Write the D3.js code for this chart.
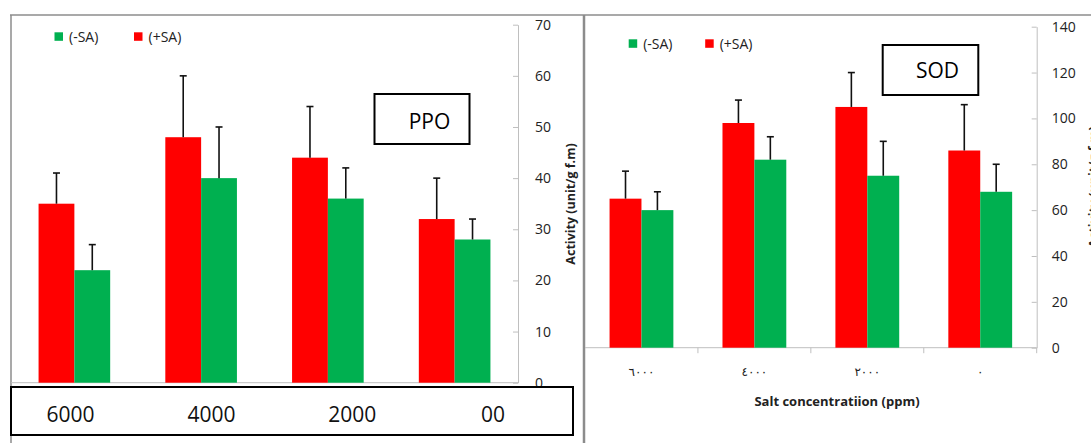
<!DOCTYPE html>
<html>
<head>
<meta charset="utf-8">
<script src="https://cdn.jsdelivr.net/npm/d3@7"></script>
<style>
  body { margin: 0; background: #fff; }
  svg { display: block; font-family: 'Open Sans', sans-serif; }
</style>
</head>
<body>
<svg id="chart" width="1091" height="443"></svg>
<script>
const categories = ['6000', '4000', '2000', '0']
const series = ['(+SA)', '(-SA)']
const legendOrder = ['(-SA)', '(+SA)']

const ppoPlus = [35, 48, 44, 32]
const ppoPlusErr = [6, 12, 10, 8]
const ppoMinus = [22, 40, 36, 28]
const ppoMinusErr = [5, 10, 6, 4]
const ppoTicks = [0, 10, 20, 30, 40, 50, 60, 70]
const ppoBoxLabels = ['6000', '4000', '2000', '00']

const sodPlus = [65, 98, 105, 86]
const sodPlusErr = [12, 10, 15, 20]
const sodMinus = [60, 82, 75, 68]
const sodMinusErr = [8, 10, 15, 12]
const sodTicks = [0, 20, 40, 60, 80, 100, 120, 140]
const sodTickLabels = ['٦٠٠٠', '٤٠٠٠', '٢٠٠٠', '٠']

const colors = {'(+SA)': '#ff0000', '(-SA)': '#00b050'}
const axisGray = '#bfbfbf'
const borderGray = '#8c8c8c'

const svg = d3.select('#chart')

function rows(plus, plusErr, minus, minusErr) {
  return categories.map((c, i) => ({
    cat: c,
    values: [
      {key: '(+SA)', value: plus[i], err: plusErr[i]},
      {key: '(-SA)', value: minus[i], err: minusErr[i]}
    ]
  }))
}

function drawPanel(g, opts) {
  const {left, right, top, bottom, ticks, data} = opts

  const x = d3.scaleBand()
    .domain(categories)
    .range([left, right])
    .paddingInner(0.435)
    .paddingOuter(0.2175)
  const xs = d3.scaleBand().domain(series).range([0, x.bandwidth()])
  const y = d3.scaleLinear()
    .domain([0, d3.max(ticks)])
    .range([bottom, top])

  // baseline
  g.append('line')
    .attr('x1', left).attr('x2', right)
    .attr('y1', y(0)).attr('y2', y(0))
    .attr('stroke', axisGray)

  const groups = g.selectAll('g.grp')
    .data(data)
    .join('g')
    .attr('class', 'grp')
    .attr('transform', d => `translate(${x(d.cat)},0)`)

  groups.selectAll('rect')
    .data(d => d.values)
    .join('rect')
    .attr('x', d => xs(d.key))
    .attr('y', d => y(d.value))
    .attr('width', xs.bandwidth())
    .attr('height', d => y(0) - y(d.value))
    .attr('fill', d => colors[d.key])

  const err = groups.selectAll('g.err')
    .data(d => d.values)
    .join('g')
    .attr('class', 'err')
    .attr('stroke', '#111')
    .attr('stroke-width', 1.6)
  err.append('line')
    .attr('x1', d => xs(d.key) + xs.bandwidth() / 2)
    .attr('x2', d => xs(d.key) + xs.bandwidth() / 2)
    .attr('y1', d => y(d.value))
    .attr('y2', d => y(d.value + d.err))
  err.append('line')
    .attr('x1', d => xs(d.key) + xs.bandwidth() / 2 - 3.5)
    .attr('x2', d => xs(d.key) + xs.bandwidth() / 2 + 3.5)
    .attr('y1', d => y(d.value + d.err))
    .attr('y2', d => y(d.value + d.err))

  const yAxis = g.append('g')
    .attr('transform', `translate(${right},0)`)
    .call(d3.axisRight(y).tickValues(ticks).tickSize(-5).tickPadding(opts.tickPad).tickSizeOuter(0))
  yAxis.select('.domain').attr('stroke', axisGray)
  yAxis.selectAll('.tick line').attr('stroke', axisGray)
  yAxis.selectAll('.tick text')
    .attr('fill', '#222')
    .attr('font-size', 14)
    .attr('font-family', "'Open Sans', sans-serif")

  // legend
  const leg = g.append('g')
    .attr('transform', `translate(${opts.legend[0]},${opts.legend[1]})`)
  const item = leg.selectAll('g')
    .data(legendOrder)
    .join('g')
    .attr('transform', (d, i) => `translate(${i * opts.legendStep},0)`)
  item.append('rect')
    .attr('width', 8.5).attr('height', 8.5)
    .attr('fill', d => colors[d])
  item.append('text')
    .attr('x', 14.5).attr('y', 4.5)
    .attr('dy', '0.35em')
    .attr('font-size', 14)
    .attr('fill', '#222')
    .text(d => d)

  // title box
  const tb = opts.titleBox
  g.append('rect')
    .attr('x', tb[0]).attr('y', tb[1])
    .attr('width', tb[2]).attr('height', tb[3])
    .attr('fill', '#fff').attr('stroke', '#000').attr('stroke-width', 2)
  g.append('text')
    .attr('x', opts.titlePos[0]).attr('y', opts.titlePos[1])
    .attr('text-anchor', 'middle')
    .attr('font-size', 21)
    .text(opts.title)

  g.append('text')
    .attr('transform', `translate(${opts.yLabelPos[0]},${opts.yLabelPos[1]}) rotate(-90)`)
    .attr('text-anchor', 'middle')
    .attr('font-size', 12.5)
    .attr('font-weight', 'bold')
    .attr('fill', '#222')
    .text('Activity (unit/g f.m)')

  return {x, y}
}

// panel borders
svg.append('line').attr('x1', 10).attr('x2', 1091).attr('y1', 15).attr('y2', 15)
  .attr('stroke', borderGray).attr('stroke-width', 1.5)
svg.append('line').attr('x1', 11).attr('x2', 11).attr('y1', 15).attr('y2', 443)
  .attr('stroke', borderGray).attr('stroke-width', 1.5)
svg.append('line').attr('x1', 584).attr('x2', 584).attr('y1', 15).attr('y2', 443)
  .attr('stroke', borderGray).attr('stroke-width', 2.5)

// PPO panel
const ppo = svg.append('g')
drawPanel(ppo, {
  left: 11, right: 518, top: 24.7, bottom: 382.7,
  ticks: ppoTicks, tickPad: 17,
  data: rows(ppoPlus, ppoPlusErr, ppoMinus, ppoMinusErr),
  legend: [54.5, 32.3], legendStep: 79.5,
  titleBox: [374.5, 94, 95, 50], titlePos: [429.5, 128.5], title: 'PPO',
  yLabelPos: [575, 204]
})

// category box under PPO
ppo.append('rect')
  .attr('x', 11).attr('y', 387)
  .attr('width', 562).attr('height', 48)
  .attr('fill', '#fff').attr('stroke', '#000').attr('stroke-width', 2)
const boxX = d3.scalePoint().domain(ppoBoxLabels).range([70.6, 493])
ppo.selectAll('text.cat')
  .data(ppoBoxLabels)
  .join('text')
  .attr('class', 'cat')
  .attr('x', d => boxX(d))
  .attr('y', 421.5)
  .attr('text-anchor', 'middle')
  .attr('font-size', 21)
  .attr('fill', '#111')
  .text(d => d)

// SOD panel
const sod = svg.append('g')
const sodScales = drawPanel(sod, {
  left: 585, right: 1036.7, top: 26.7, bottom: 347.7,
  ticks: sodTicks, tickPad: 15,
  data: rows(sodPlus, sodPlusErr, sodMinus, sodMinusErr),
  legend: [628.7, 39.3], legendStep: 76.5,
  titleBox: [882.7, 45, 95.6, 50], titlePos: [937.5, 78], title: 'SOD',
  yLabelPos: [1097.5, 187]
})

// x ticks between categories
const sx = sodScales.x
const sy = sodScales.y
const bounds = categories.slice(1).map(c => sx(c) - sx.step() * sx.paddingInner() / 2)
  .concat([sx.range()[1]])
sod.selectAll('line.xt')
  .data(bounds)
  .join('line')
  .attr('class', 'xt')
  .attr('x1', d => d).attr('x2', d => d)
  .attr('y1', sy(0)).attr('y2', sy(0) + 5.5)
  .attr('stroke', axisGray)

sod.selectAll('text.xl')
  .data(categories.map((c, i) => ({c, label: sodTickLabels[i]})))
  .join('text')
  .attr('class', 'xl')
  .attr('x', d => sx(d.c) + sx.bandwidth() / 2)
  .attr('y', 372)
  .attr('dy', '0.35em')
  .attr('text-anchor', 'middle')
  .attr('font-size', 12)
  .attr('font-family', "'DejaVu Sans', sans-serif")
  .attr('letter-spacing', 3.5)
  .attr('fill', '#222')
  .text(d => d.label)

sod.append('text')
  .attr('x', 837).attr('y', 406)
  .attr('text-anchor', 'middle')
  .attr('font-size', 13)
  .attr('font-weight', 'bold')
  .attr('fill', '#222')
  .text('Salt concentratiion (ppm)')
</script>
</body>
</html>
